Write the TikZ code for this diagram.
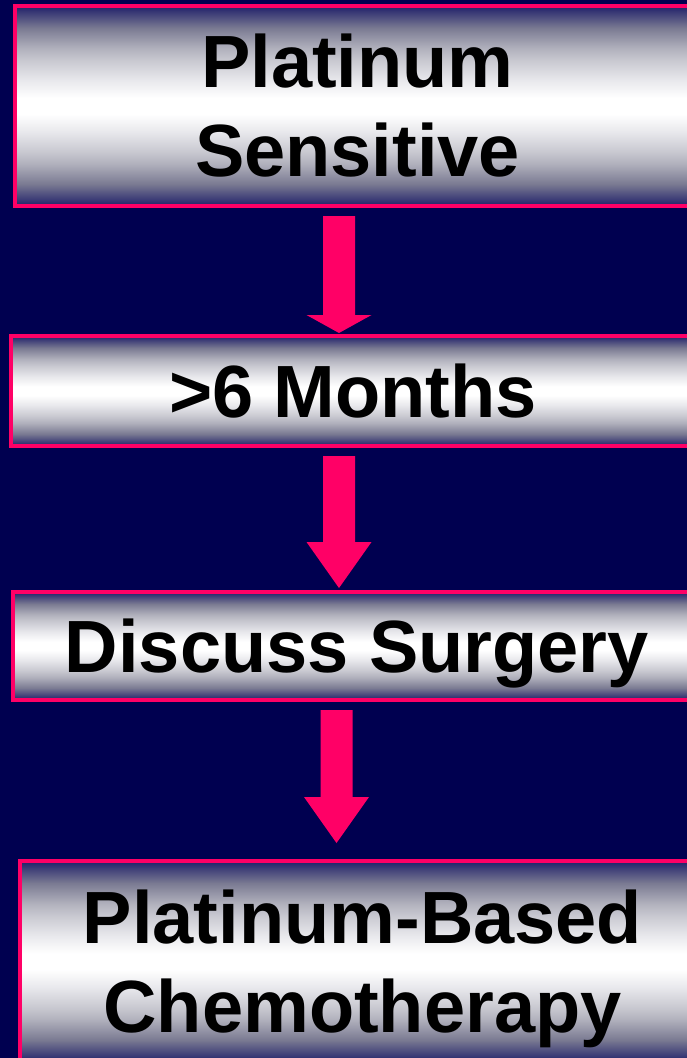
\documentclass[tikz,border=0pt]{standalone}
\usepackage{fontspec}
\usepackage{tikz}
\usetikzlibrary{calc}
\newfontfamily\panelfamily{Liberation Sans}

\definecolor{slidenavy}{RGB}{0,0,80}
\definecolor{boxpink}{RGB}{255,0,102}
\definecolor{shadeedge}{RGB}{32,32,106}
\definecolor{shadeA}{RGB}{122,122,146}
\definecolor{shadeB}{RGB}{176,176,188}
\definecolor{shadeC}{RGB}{200,200,208}
\definecolor{shadeD}{RGB}{232,232,236}

\pgfdeclareverticalshading{panel}{100bp}{color(0bp)=(shadeedge); color(25bp)=(shadeedge);
  color(30.5bp)=(shadeA); color(35.5bp)=(shadeB); color(38.5bp)=(shadeC); color(43.5bp)=(shadeD);
  color(48bp)=(white); color(52bp)=(white);
  color(56.5bp)=(shadeD); color(61.5bp)=(shadeC); color(64.5bp)=(shadeB); color(69.5bp)=(shadeA);
  color(75bp)=(shadeedge); color(100bp)=(shadeedge)}

\tikzset{
  panelbox/.style={draw=boxpink, line width=4pt, shading=panel, inner sep=0pt,
    align=center, text=black, font={\panelfamily\bfseries\fontsize{74}{89}\selectfont}},
  flowarrow/.style={fill=boxpink}
}

\begin{document}
\begin{tikzpicture}[x=1pt, y=-1pt]
  \useasboundingbox (0,0) rectangle (687,1058);
  \fill[slidenavy] (0,0) rectangle (687,1058);
  \clip (0,0) rectangle (687,1058);

  % Kästen
  \node[panelbox, minimum width=685pt, minimum height=200pt] (sensitive) at (357.5,106) {Platinum\\Sensitive};
  \node[panelbox, minimum width=684pt, minimum height=110pt, text depth=0pt] (months) at (353,391) {>6 Months};
  \node[panelbox, minimum width=688pt, minimum height=108pt, text depth=0pt] (surgery) at (357,646) {Discuss Surgery};
  \node[panelbox, minimum width=685pt, minimum height=201pt] (chemo) at (362.5,961.5) {Platinum-Based\\\smash{Chemotherapy}};

  % Pfeile
  \coordinate (a1s) at ([xshift=-18.5pt, yshift=-8pt]sensitive.south);
  \coordinate (a1e) at ([yshift=1pt]a1s |- months.north);
  \coordinate (a2s) at ([xshift=-14pt, yshift=-8pt]months.south);
  \coordinate (a2e) at ([yshift=2pt]a2s |- surgery.north);
  \coordinate (a3s) at ([xshift=-20.5pt, yshift=-8pt]surgery.south);
  \coordinate (a3e) at ([yshift=16pt]a3s |- chemo.north);
  \foreach \s/\e/\h in {a1s/a1e/18, a2s/a2e/46, a3s/a3e/46}
    \fill[flowarrow] ([xshift=-16pt]\s) -- ([xshift=-16pt, yshift=\h pt]\e)
      -- ([xshift=-32.5pt, yshift=\h pt]\e) -- (\e) -- ([xshift=32.5pt, yshift=\h pt]\e)
      -- ([xshift=16pt, yshift=\h pt]\e) -- ([xshift=16pt]\s) -- cycle;
\end{tikzpicture}
\end{document}
